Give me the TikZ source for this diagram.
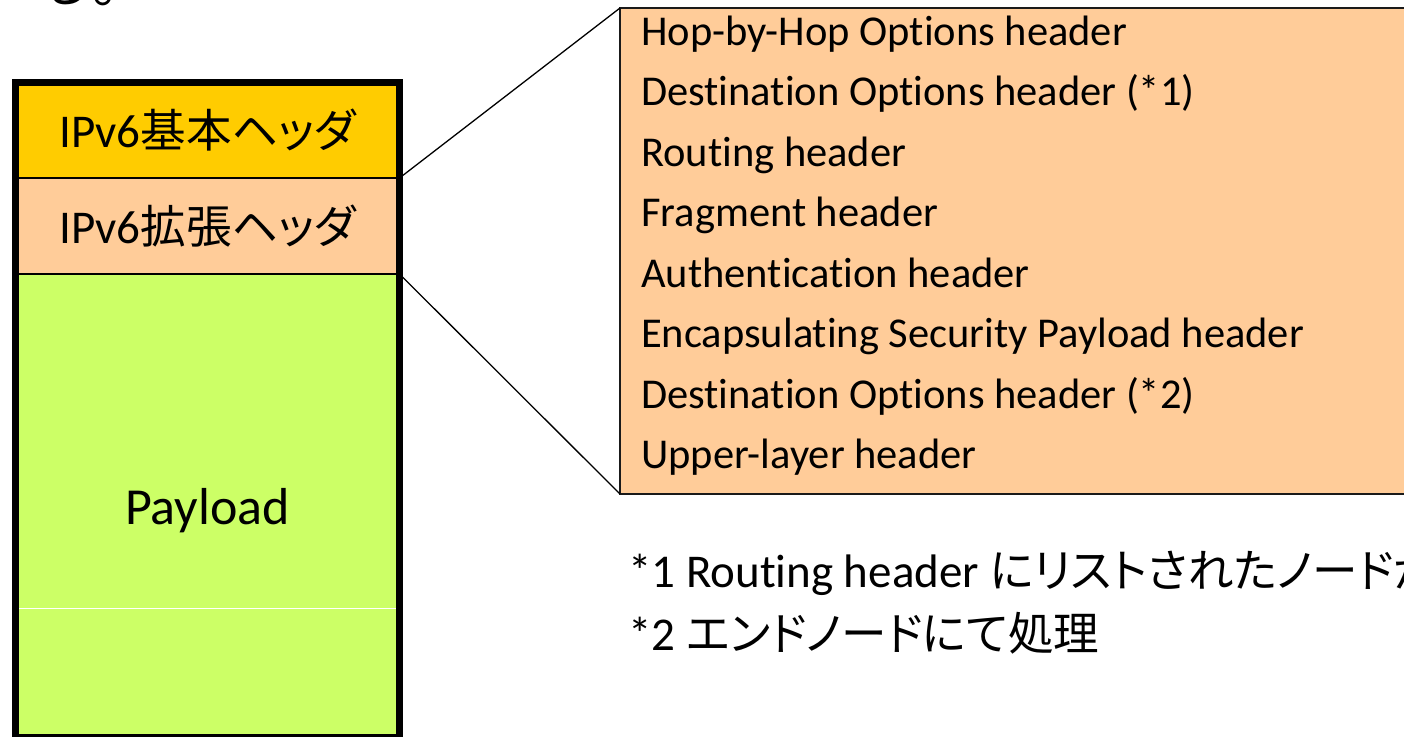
\documentclass[tikz,border=0pt]{standalone}
\usepackage{fontspec}
\setmainfont{Carlito}[Ligatures=NoCommon, RawFeature={-liga;-clig;-calt}]
\newfontfamily\jp{Noto Sans CJK JP}[RawFeature=+palt, Scale=0.97]
\newfontfamily\jpfull{Noto Sans CJK JP}
\definecolor{basegold}{HTML}{FFCC00}
\definecolor{extpeach}{HTML}{FFCC99}
\definecolor{paygreen}{HTML}{CCFF66}
\definecolor{framegray}{HTML}{1A1A1A}

\begin{document}
\begin{tikzpicture}[x=1pt,y=-1pt,
  section/.style={draw=none, inner sep=0pt, outer sep=0pt, anchor=north west},
  label/.style={inner sep=0pt, anchor=base, font=\fontsize{47}{56}\selectfont},
  item/.style={inner sep=0pt, anchor=base west, font=\fontsize{42.5}{50}\selectfont},
  note/.style={inner sep=0pt, anchor=base west, font=\fontsize{47}{56}\selectfont},
  link/.style={line width=1.3pt, black},
  rule/.style={line width=1.5pt, black}
]
\useasboundingbox (0,0) rectangle (1404,736);
\clip (0,0) rectangle (1404,736);

% tail of the preceding sentence
\node[inner sep=0pt, anchor=base west, font=\jpfull\fontsize{55}{60}\selectfont] (tail) at (37,2) {る。};

% packet layout: basic header, extension headers, payload
\node[section, fill=basegold, minimum width=384pt, minimum height=96pt] (base) at (15.5,82) {};
\node[section, fill=extpeach, minimum width=384pt, minimum height=96pt] (ext) at (15.5,178) {};
\node[section, fill=paygreen, minimum width=384pt, minimum height=463.5pt] (pay) at (15.5,274) {};

\draw[rule] (base.south west) -- (base.south east);
\draw[rule] (ext.south west) -- (ext.south east);
\draw[white, line width=1pt] (15.5,608) -- (399.5,608);

% list of extension headers
\node[section, fill=extpeach, draw=framegray, line width=1.5pt, minimum width=900pt, minimum height=486pt] (list) at (620,8) {};

\draw[link] (ext.north east) -- (list.north west);
\draw[link] (ext.south east) -- (list.south west);

% thick outer frame of the packet
\draw[line width=7pt, black] (base.north west) rectangle (pay.south east);

\node[label] (tbase) at (207.5,147) {IPv6{\jp 基本ヘッダ}};
\node[label] (text) at (207.5,243) {IPv6{\jp 拡張ヘッダ}};
\node[label, font=\fontsize{52}{62}\selectfont] (tpay) at (207.5,524) {Payload};

\foreach \t [count=\i] in {Hop-by-Hop Options header,
    Destination Options header (*1),
    Routing header,
    Fragment header,
    Authentication header,
    Encapsulating Security Payload header,
    Destination Options header (*2),
    Upper-layer header}
  \node[item] (item\i) at (641,{45+60.5*(\i-1)}) {\t};

% footnotes
\node[note] (note1) at (628,587) {*1 Routing header {\jp にリストされたノードが}};
\node[note] (note2) at (628,650) {*2 {\jp エンドノードにて処理}};
\end{tikzpicture}
\end{document}
